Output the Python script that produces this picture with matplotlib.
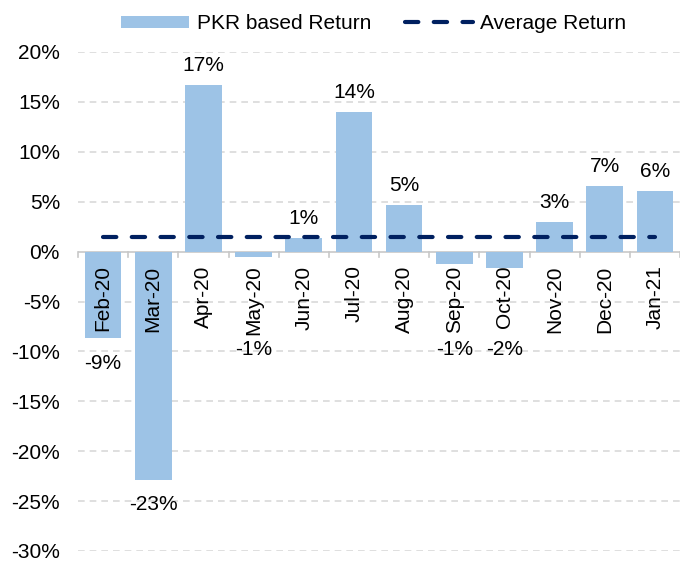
import matplotlib
matplotlib.use("Agg")
import matplotlib.pyplot as plt
from matplotlib.patches import Patch
from matplotlib.lines import Line2D

plt.rcParams['font.family'] = ['Liberation Sans', 'DejaVu Sans']

months = ["Feb-20", "Mar-20", "Apr-20", "May-20", "Jun-20", "Jul-20",
          "Aug-20", "Sep-20", "Oct-20", "Nov-20", "Dec-20", "Jan-21"]
returns = [-8.7, -22.9, 16.7, -0.55, 1.4, 14.0, 4.7, -1.2, -1.6, 3.0, 6.6, 6.1]
average = 1.5
yticks = [-30, -25, -20, -15, -10, -5, 0, 5, 10, 15, 20]

bar_color = "#9DC3E6"
line_color = "#002060"
FS = 15
DASH = (3.2, 3.7)

fig = plt.figure(figsize=(6.8, 5.63), dpi=100)
ax = fig.add_axes([78/680, 1-551/563, 602/680, (551-52)/563])

x = list(range(len(months)))
ax.bar(x, returns, width=0.73, color=bar_color, zorder=2)
ax.plot(x, [average]*len(x), color=line_color, lw=3, dashes=DASH,
        dash_capstyle='round', zorder=3)

ax.set_xlim(-0.5, len(months)-0.5)
ax.set_ylim(-30, 20)
ax.set_yticks(yticks)
ax.set_yticklabels([f"{t}%" for t in yticks], fontsize=FS)
ax.tick_params(axis='y', length=0, pad=13)
ax.set_xticks([])
for s in ax.spines.values():
    s.set_visible(False)

for t in yticks:
    if t != 0:
        ax.axhline(t, color="#d9d9d9", lw=1.2, dashes=(4, 3), zorder=1)
ax.axhline(0, color="#c8c8c8", lw=1.2, zorder=1)

# category tick marks at the zero line
for b in [i - 0.5 for i in range(len(months)+1)]:
    ax.plot([b, b], [0, -0.55], color="#c8c8c8", lw=1.2, zorder=1, clip_on=False)

# category labels below zero line
for i, m in enumerate(months):
    ax.annotate(m, (i, 0), xytext=(0, -10), textcoords='offset points',
                rotation=90, ha='center', va='top', fontsize=FS, zorder=4)

# data labels
for i, v in enumerate(returns):
    lab = f"{round(v):.0f}%"
    if v >= 0:
        ax.annotate(lab, (i, v), xytext=(0, 7), textcoords='offset points',
                    ha='center', va='bottom', fontsize=FS)
    elif v > -5:
        # small negative bars: label placed below the category label
        ax.annotate(lab, (i, -8.9), xytext=(0, 0), textcoords='offset points',
                    ha='center', va='top', fontsize=FS)
    else:
        ax.annotate(lab, (i, v), xytext=(0, -11), textcoords='offset points',
                    ha='center', va='top', fontsize=FS)

handles = [Patch(facecolor=bar_color, label="PKR based Return"),
           Line2D([0], [0], color=line_color, lw=3, dashes=DASH,
                  dash_capstyle='round', label="Average Return")]
fig.legend(handles=handles, loc='center', bbox_to_anchor=(0.55, 0.958), ncol=2,
           frameon=False, fontsize=FS, handlelength=3.26, columnspacing=1.58,
           handletextpad=0.38, handleheight=0.55)

fig.savefig("out.png", dpi=100)
